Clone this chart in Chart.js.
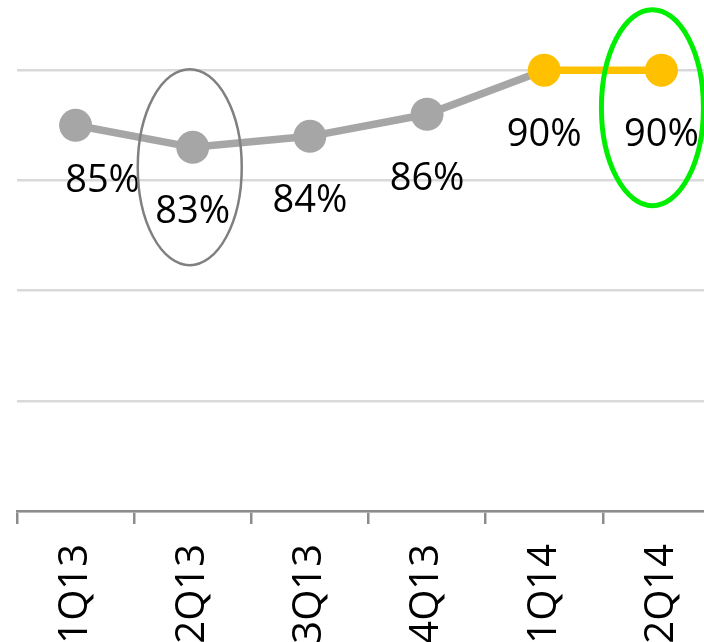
<!DOCTYPE html>
<html>
<head>
    <script src="https://cdn.jsdelivr.net/npm/chart.js@4.4.0/dist/chart.umd.min.js"></script>
    <title>Quarterly rate</title>
    <style>
        html, body { margin: 0; padding: 0; overflow: hidden; background: #fff; width: 704px; height: 642px; }
        /* the plot runs past the right edge and the 100% line sits above the top */
        #graph-area { position: absolute; left: 0; top: -50px; width: 720px; height: 711px; }
    </style>
</head>

<body>
<div id="graph-area">
    <canvas id="myChart"></canvas>
</div>

<script>
    var quarters = ['1Q13', '2Q13', '3Q13', '4Q13', '1Q14', '2Q14'];
    var rates = [85, 83, 84, 86, 90, 90];
    var rateLabels = ['85%', '83%', '84%', '86%', '90%', '90%'];
    var yMin = 50, yMax = 100, yStep = 10;

    var GREY = '#a6a6a6';
    var ORANGE = '#ffc000';
    var firstOrange = 4; // 2014 quarters are highlighted
    var FONT = '"Open Sans"';

    var pointColors = quarters.map(function (q, i) { return i >= firstOrange ? ORANGE : GREY; });

    // percent text under each point
    var valueLabels = {
        id: 'valueLabels',
        afterDatasetsDraw: function (chart) {
            var ctx = chart.ctx;
            var meta = chart.getDatasetMeta(0);
            ctx.save();
            ctx.font = '38px ' + FONT;
            ctx.fillStyle = '#000';
            ctx.textAlign = 'center';
            ctx.textBaseline = 'alphabetic';
            meta.data.forEach(function (pt, i) {
                // first label was nudged right so it doesn't hit the edge
                var dx = i === 0 ? 27 : 0;
                var dy = i === 0 ? 67 : 76;
                ctx.fillText(rateLabels[i], pt.x + dx, pt.y + dy);
            });
            ctx.restore();
        }
    };

    // hand-drawn style rings around 2Q13 and 2Q14
    var rings = {
        id: 'rings',
        afterDraw: function (chart) {
            var xs = chart.scales.x, ys = chart.scales.y, ctx = chart.ctx;
            var list = [
                { i: 1, v: 81.2, dx: -3, rx: 52, ry: 98, color: '#808080', w: 2.5 },
                { i: 5, v: 86.6, dx: -9, rx: 51, ry: 98, color: '#00ee00', w: 5 }
            ];
            ctx.save();
            list.forEach(function (r) {
                ctx.beginPath();
                ctx.ellipse(xs.getPixelForValue(r.i) + r.dx, ys.getPixelForValue(r.v), r.rx, r.ry, 0, 0, Math.PI * 2);
                ctx.strokeStyle = r.color;
                ctx.lineWidth = r.w;
                ctx.stroke();
            });
            ctx.restore();
        }
    };

    function drawChart() {
        var ctx = document.getElementById('myChart').getContext('2d');
        new Chart(ctx, {
            type: 'line',
            data: {
                labels: quarters,
                datasets: [
                    {
                        data: rates,
                        borderColor: GREY,
                        borderWidth: 7.5,
                        segment: {
                            borderColor: function (c) { return c.p0DataIndex >= firstOrange ? ORANGE : GREY; }
                        },
                        pointBackgroundColor: pointColors,
                        pointBorderColor: pointColors,
                        pointRadius: 16.5,
                        pointBorderWidth: 0,
                        pointHoverRadius: 16.5,
                        tension: 0,
                        clip: false
                    }
                ]
            },
            options: {
                responsive: true,
                maintainAspectRatio: false,
                animation: false,
                events: [],
                layout: { autoPadding: false, padding: { left: 17, top: 10, right: 0, bottom: 0 } },
                scales: {
                    x: {
                        offset: true,
                        afterFit: function (s) { s.height = 150; s.paddingLeft = 0; s.paddingRight = 0; },
                        grid: {
                            offset: true,
                            drawOnChartArea: false,
                            tickLength: 13,
                            color: '#8c8c8c',
                            lineWidth: 2.5
                        },
                        border: { display: true, color: '#8c8c8c', width: 2.5 },
                        ticks: {
                            autoSkip: false,
                            minRotation: 90,
                            maxRotation: 90,
                            padding: 20,
                            color: '#000',
                            font: { family: FONT, size: 40 }
                        }
                    },
                    y: {
                        min: yMin,
                        max: yMax,
                        afterFit: function (s) { s.width = 0; },
                        ticks: { display: false, stepSize: yStep },
                        border: { display: false },
                        grid: { color: '#d9d9d9', lineWidth: 2.5, drawTicks: false }
                    }
                },
                plugins: {
                    legend: { display: false },
                    title: { display: false },
                    tooltip: { enabled: false }
                }
            },
            plugins: [valueLabels, rings]
        });
    }

    // make sure the face is ready before the canvas text is measured
    document.fonts.load('38px ' + FONT).then(drawChart, drawChart);
</script>

</body>
</html>
